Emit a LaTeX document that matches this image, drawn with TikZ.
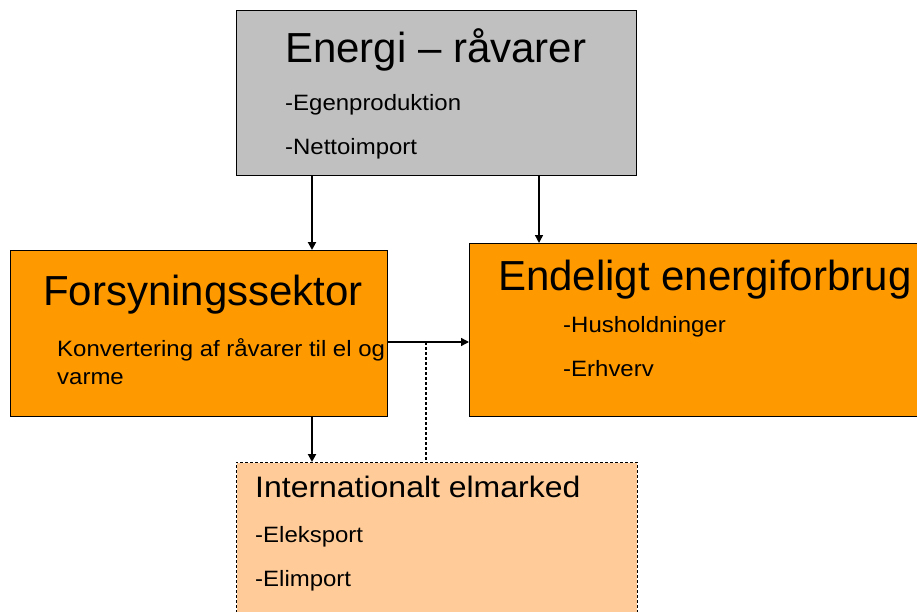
\documentclass[tikz,border=0pt]{standalone}
\usepackage{fontspec}
\setmainfont{Liberation Sans}
\newfontfamily\widesans[FakeStretch=1.08]{Liberation Sans}
\usetikzlibrary{arrows.meta}

\definecolor{rawgray}{HTML}{C0C0C0}
\definecolor{supplyorange}{HTML}{FF9900}
\definecolor{marketpeach}{HTML}{FFCC99}

\tikzset{
  boxbase/.style={draw=black, line width=1pt, inner sep=0pt, anchor=north west},
  headtext/.style={anchor=base west, inner sep=0pt, font=\fontsize{42}{48}\selectfont},
  subhead/.style={anchor=base west, inner sep=0pt, font=\widesans\fontsize{29.6}{34}\selectfont},
  itemtext/.style={anchor=base west, inner sep=0pt, font=\widesans\fontsize{22.2}{28}\selectfont},
  flow/.style={-{Triangle[length=8pt,width=8pt]}, line width=1.4pt},
  flowthick/.style={-{Triangle[length=8pt,width=8pt]}, line width=2.2pt},
}

\begin{document}
\begin{tikzpicture}[x=1pt, y=-1pt]
\useasboundingbox (0,0) rectangle (917,612);
\clip (0,0) rectangle (917,612);

% boxes
\node[boxbase, fill=rawgray, minimum width=400pt, minimum height=165pt] (raw) at (236,10) {};
\node[boxbase, fill=supplyorange, minimum width=377pt, minimum height=166pt] (fors) at (10,250) {};
\node[boxbase, fill=supplyorange, minimum width=460pt, minimum height=173pt] (final) at (469,243) {};
\node[boxbase, draw=none, fill=marketpeach, minimum width=400pt, minimum height=160pt] (intl) at (236,462) {};
\draw[line width=1pt, dash pattern=on 3pt off 2pt] (intl.south west) -- (intl.north west) -- (intl.north east) -- (intl.south east);

% texts
\node[headtext] (rawtitle) at (285,63) {Energi – råvarer};
\node[itemtext] (rawa) at (285,111) {-Egenproduktion};
\node[itemtext] (rawb) at (285,155) {-Nettoimport};

\node[headtext] (forstitle) at (43,305) {Forsyningssektor};
\node[itemtext] (forsa) at (57,356) {Konvertering af råvarer til el og};
\node[itemtext] (forsb) at (57,384) {varme};

\node[headtext] (finaltitle) at (498,290) {Endeligt energiforbrug};
\node[itemtext] (finala) at (563,332) {-Husholdninger};
\node[itemtext] (finalb) at (563,376) {-Erhverv};

\node[subhead] (intltitle) at (255,497) {Internationalt elmarked};
\node[itemtext] (intla) at (255,542) {-Eleksport};
\node[itemtext] (intlb) at (255,586) {-Elimport};

% connectors
\coordinate (split) at (426,342);
\draw[flowthick] (raw.south -| 312,0) -- (fors.north -| 312,0);
\draw[flow] (raw.south -| 539,0) -- (final.north -| 539,0);
\draw[flow] (fors.east |- split) -- (final.west |- split);
\draw[flowthick] (fors.south -| 312,0) -- (intl.north -| 312,0);
\draw[line width=1.3pt, dash pattern=on 3pt off 2pt] (split) -- (intl.north -| split);
\end{tikzpicture}
\end{document}
